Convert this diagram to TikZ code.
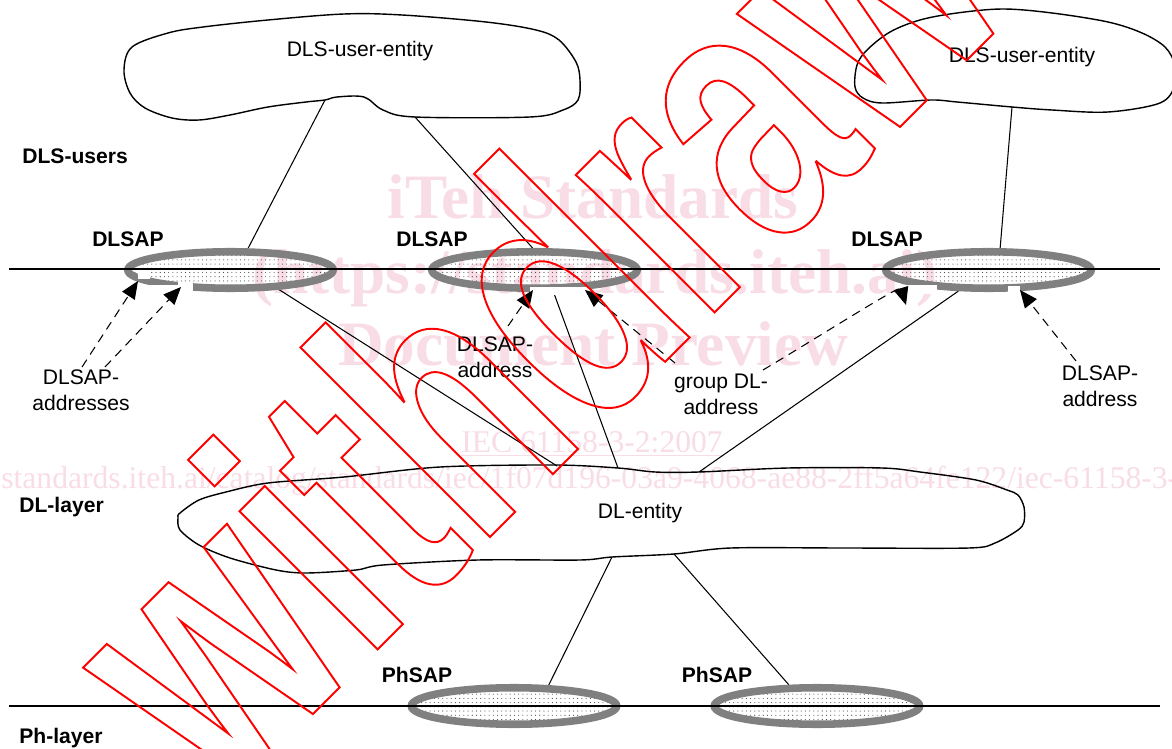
\documentclass[tikz,border=0pt]{standalone}
\usepackage{fontspec}
\setmainfont{Liberation Sans}
\newfontfamily\wmserif{Liberation Serif}
\newfontfamily\wmfont{Liberation Sans}[FakeStretch=0.703]
\usetikzlibrary{shapes.geometric,arrows.meta,patterns.meta}
\pgfdeclarelayer{bg}
\pgfdeclarelayer{lines}
\pgfdeclarelayer{fg}
\pgfsetlayers{bg,lines,main,fg}
\definecolor{ringgray}{RGB}{128,128,128}
\definecolor{wmpink}{RGB}{249,221,230}
\definecolor{wmred}{RGB}{255,0,0}
\tikzset{
  lbl/.style={inner sep=0, font=\fontsize{12}{14.8}\selectfont},
  blbl/.style={inner sep=0, anchor=base west, font=\bfseries\fontsize{12}{14.8}\selectfont},
  twoline/.style={lbl, align=center, anchor=north},
  sapring/.style={ellipse, draw=ringgray, line width=4.3pt, inner sep=0,
    minimum width=4.11cm, minimum height=0.73cm,
    pattern={Dots[distance=2.4pt,radius=0.32pt]}, pattern color=black!70},
  notch/.style={fill=white, draw=none},
  blob/.style={draw=black, line width=0.8pt, line join=round},
  conn/.style={draw=black, line width=0.6pt},
  layerline/.style={draw=black, line width=0.7pt},
  dasharrow/.style={draw=black, line width=0.6pt, dash pattern=on 5pt off 3.5pt,
    -{Triangle[length=10pt,width=8.5pt]}},
  wmbig/.style={inner sep=0, text=wmpink, font=\wmserif\bfseries\fontsize{36}{40}\selectfont},
  wmsmall/.style={inner sep=0, text=wmpink, font=\wmserif\fontsize{18}{20}\selectfont},
}
\begin{document}
\begin{tikzpicture}[x=0.02cm,y=-0.02cm]
\useasboundingbox (0,0) rectangle (1172,749);
% ---------- background and pale watermark text
\begin{pgfonlayer}{bg}
\fill[white] (0,0) rectangle (1172,749);
\node[wmbig, anchor=base] (wm1) at (593,219) {iTeh Standards};
\node[wmbig, anchor=base] (wm2) at (595,294) {(https://standards.iteh.ai)};
\node[wmbig, anchor=base] (wm3) at (593,366) {Document Preview};
\node[wmsmall, anchor=base] (wm4) at (592,452) {\underline{IEC 61158-3-2:2007}};
\node[wmsmall, anchor=base west] (wm5) at (1,488) {standards.iteh.ai/catalog/standards/iec/1f07d196-03a9-4068-ae88-2ff5a64fe122/iec-61158-3-2-2007};
\end{pgfonlayer}

% ---------- service access points
\node[sapring] (dl1) at (230.5,270) {};
\node[sapring] (dl2) at (534.5,270) {};
\node[sapring] (dl3) at (988.5,270) {};
\node[sapring] (ph1) at (514,706) {};
\node[sapring] (ph2) at (817,706) {};
% white cut-outs of the rings where the address arrows arrive
\fill[notch] (138,272) rectangle (150,279);
\fill[notch] (150,285) rectangle (178,294);
\fill[notch] (178,282) rectangle (193,294);
\fill[notch] (530,287.5) rectangle (590,295);
\fill[notch] (900,285) rectangle (937,294);
\fill[notch] (1008,286) rectangle (1020,294);

% ---------- layer lines
\coordinate (ua) at (9,269);  \coordinate (ub) at (1160,269);
\coordinate (la) at (9,706);  \coordinate (lb) at (1160,706);
\draw[layerline] (ua) -- (ub);
\draw[layerline] (la) -- (lb);

% ---------- entities
\draw[blob] plot[smooth cycle, tension=0.55] coordinates {
 (124,70) (132,47) (168,33) (203,27) (268,20) (344,14) (402,15) (486,22) (536,30)
 (559,40) (576,62) (580,80) (578,100) (563,110) (530,117) (415,117) (383,110)
 (364,97) (337,97) (325,100) (306,102) (268,107) (230,115) (199,120) (172,118)
 (145,108) (130,93)};
\draw[blob] plot[smooth cycle, tension=0.55] coordinates {
 (855,87) (857,65) (867,50) (890,32) (920,20) (957,13) (1003,9) (1052,13) (1108,22)
 (1142,33) (1165,47) (1175,65) (1175,85) (1160,103) (1108,112) (1052,110) (1012,107)
 (957,102) (931,100) (882,103) (863,98)};
\draw[blob] plot[smooth cycle, tension=0.5] coordinates {
 (180,513) (199,500) (226,492) (268,483) (344,477) (440,467) (555,465) (618,468)
 (655,472) (699,472) (788,468) (882,468) (920,472) (976,480) (1007,490) (1018,495)
 (1024,507) (1024,522) (1018,530) (995,543) (969,548) (844,548) (731,548) (674,554)
 (612,557) (580,560) (478,560) (383,565) (356,570) (306,573) (276,570) (230,558)
 (199,545) (180,530) (178,518)};
\coordinate (uL1) at (325,100);
\coordinate (uL2) at (415,117);
\coordinate (uR1) at (1012,107);
\coordinate (dA) at (557,466);
\coordinate (dB) at (618,468);
\coordinate (dC) at (699,472);
\coordinate (dD) at (612,557);
\coordinate (dE) at (674,554);

% ---------- connectors (behind the rings)
\begin{pgfonlayer}{lines}
\draw[conn] (uL1) -- (dl1.51);
\draw[conn] (uL2) -- (dl2.95);
\draw[conn] (uR1) -- (dl3.62);
\draw[conn] (dl1.338) -- (dA);
\draw[conn] (dl2.311) -- (dB);
\draw[conn] (dl3.215) -- (dC);
\draw[conn] (dD) -- (ph1.31);
\draw[conn] (dE) -- (ph2.143);
\end{pgfonlayer}

% ---------- labels
\node[lbl, anchor=base] (tuL) at (360,57) {DLS-user-entity};
\node[lbl, anchor=base] (tuR) at (1022,63) {DLS-user-entity};
\node[lbl, anchor=base] (tdl) at (640,518) {DL-entity};
\node[blbl] (lusers) at (22,164) {DLS-users};
\node[blbl] (ldl) at (19,512) {DL-layer};
\node[blbl] (lph) at (19,743) {Ph-layer};
\node[blbl, anchor=base] (s1) at (128,247) {DLSAP};
\node[blbl, anchor=base] (s2) at (432,247) {DLSAP};
\node[blbl, anchor=base] (s3) at (887,247) {DLSAP};
\node[blbl, anchor=base] (p1) at (417,682) {PhSAP};
\node[blbl, anchor=base] (p2) at (717,682) {PhSAP};
\node[twoline] (aL) at (81,369) {DLSAP-\\addresses};
\node[twoline] (aM) at (495,336) {DLSAP-\\address};
\node[twoline] (aG) at (721,374) {group DL-\\address};
\node[twoline] (aR) at (1100,365) {DLSAP-\\address};

% ---------- dashed address arrows
\coordinate (a1s) at (82,367);   \coordinate (a1e) at (138,281);
\coordinate (a2s) at (105,367);  \coordinate (a2e) at (181,287);
\coordinate (a3s) at (508,326);  \coordinate (a3e) at (533,290);
\coordinate (a4s) at (675,363);  \coordinate (a4e) at (585,290);
\coordinate (a5s) at (763,370);  \coordinate (a5e) at (906,305);
\coordinate (a6s) at (1076,361); \coordinate (a6e) at (1020,290);
\draw[dasharrow] (a1s) -- (a1e);
\draw[dasharrow] (a2s) -- (a2e);
\draw[dasharrow] (a3s) -- (a3e);
\draw[dasharrow] (a4s) -- (a4e);
\draw[dasharrow] (a5s) .. controls (830,330) and (900,285) .. (a5e);
\draw[dasharrow] (a6s) -- (a6e);

% ---------- outlined red watermark
\begin{pgfonlayer}{fg}
\node[anchor=base west, inner sep=0, rotate=45, text=wmred] (wd) at (221.5,805.5)
 {\wmfont\bfseries\fontsize{210.5}{210}\selectfont\special{pdf:literal direct 1 Tr 1.1 w}withdrawn\special{pdf:literal direct 0 Tr}};
\end{pgfonlayer}
\end{tikzpicture}
\end{document}
